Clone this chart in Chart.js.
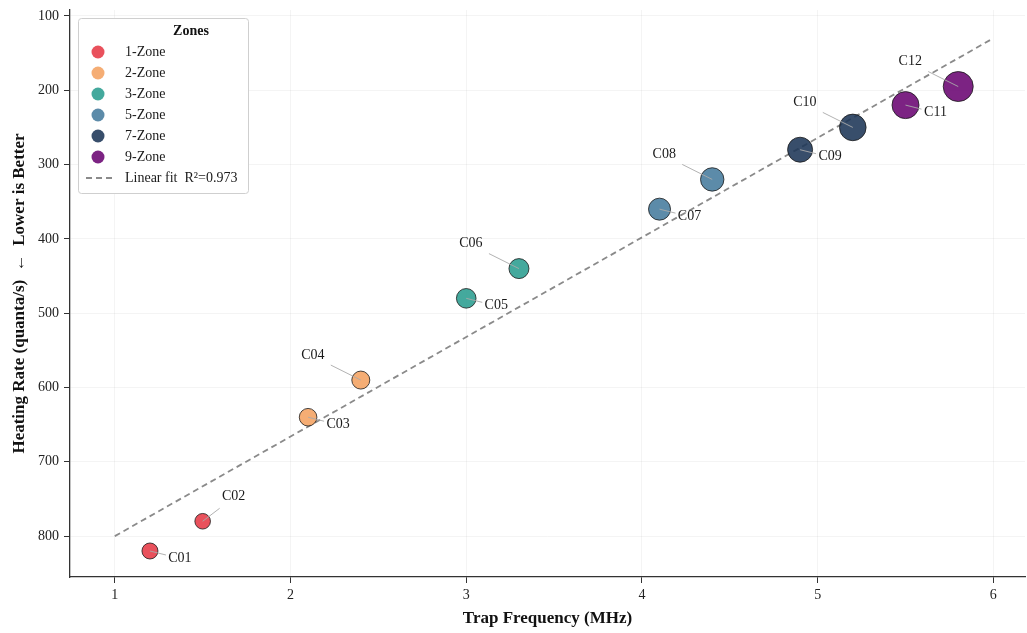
<!DOCTYPE html>
<html>
<head>
<meta charset="utf-8">
<script src="https://cdn.jsdelivr.net/npm/chart.js@4.4.1/dist/chart.umd.min.js"></script>
<style>
  html, body { margin: 0; padding: 0; background: #fff; overflow: hidden; }
  #wrap { width: 1027px; height: 633px; position: relative; }
</style>
</head>
<body>
<div id="wrap"><canvas id="chart"></canvas></div>
<script>
// Chart data
const configNames = ['C01', 'C02', 'C03', 'C04', 'C05', 'C06', 'C07', 'C08', 'C09', 'C10', 'C11', 'C12'];
const trapFreq = [1.2, 1.5, 2.1, 2.4, 3.0, 3.3, 4.1, 4.4, 4.9, 5.2, 5.5, 5.8];
const heatingRate = [820, 780, 640, 590, 480, 440, 360, 320, 280, 250, 220, 195];
const zoneCount = [1, 1, 2, 2, 3, 3, 5, 5, 7, 7, 9, 9];
const zoneGroups = [1, 2, 3, 5, 7, 9];
const fitX = [1, 6];
const fitY = [800, 130];
const fitR2 = '0.973';
const xTicks = [1, 2, 3, 4, 5, 6];
const yTicks = [100, 200, 300, 400, 500, 600, 700, 800];

// Styles
const zoneColors = {
    1: 'rgba(230, 57, 70, 0.88)',
    2: 'rgba(244, 162, 97, 0.88)',
    3: 'rgba(42, 157, 143, 0.88)',
    5: 'rgba(69, 123, 157, 0.88)',
    7: 'rgba(29, 53, 87, 0.88)',
    9: 'rgba(106, 5, 114, 0.88)'
};
const markerRadius = [8, 7.8, 8.8, 9, 9.8, 10, 11, 11.7, 12.5, 13.3, 13.5, 15];
const FONT = "'Liberation Serif', 'Times New Roman', serif";

const datasets = zoneGroups.map(z => ({
    type: 'scatter',
    label: z + '-Zone',
    data: trapFreq.map((x, i) => ({ x: x, y: heatingRate[i], i: i })).filter(p => zoneCount[p.i] === z),
    backgroundColor: zoneColors[z],
    borderColor: '#1a1a1a',
    borderWidth: 0.8,
    pointRadius: ctx => markerRadius[ctx.raw.i],
    pointHoverRadius: ctx => markerRadius[ctx.raw.i],
    order: 1
}));

datasets.push({
    type: 'line',
    label: 'Linear fit',
    data: fitX.map((x, i) => ({ x: x, y: fitY[i] })),
    borderColor: '#8a8a8a',
    borderWidth: 1.8,
    borderDash: [6, 4],
    pointRadius: 0,
    fill: false,
    order: 2
});

// Point labels with leader lines
const pointLabels = {
    id: 'pointLabels',
    afterDatasetsDraw(chart) {
        const ctx = chart.ctx;
        ctx.save();
        ctx.font = '14px ' + FONT;
        ctx.textAlign = 'center';
        ctx.textBaseline = 'middle';
        chart.data.datasets.forEach((ds, di) => {
            if (ds.type !== 'scatter') return;
            chart.getDatasetMeta(di).data.forEach((el, k) => {
                const i = ds.data[k].i;
                let tx, ty, lx, ly;
                if (i % 2 === 0) {
                    tx = el.x + 30; ty = el.y + 7;
                    lx = el.x + 16; ly = el.y + 4;
                } else if (i === 1) {
                    tx = el.x + 31; ty = el.y - 25;
                    lx = el.x + 17; ly = el.y - 13;
                } else {
                    tx = el.x - 48; ty = el.y - 25;
                    lx = el.x - 30; ly = el.y - 15;
                }
                ctx.strokeStyle = 'rgba(170, 170, 170, 0.9)';
                ctx.lineWidth = 1;
                ctx.beginPath();
                ctx.moveTo(el.x, el.y);
                ctx.lineTo(lx, ly);
                ctx.stroke();
                ctx.fillStyle = '#1a1a1a';
                ctx.fillText(configNames[i], tx, ty);
            });
        });
        ctx.restore();
    }
};

// Legend box drawn inside the plot
const zoneLegend = {
    id: 'zoneLegend',
    afterDraw(chart) {
        const ctx = chart.ctx;
        const x0 = 78, y0 = 18, w = 170, h = 175;
        ctx.save();
        ctx.fillStyle = 'rgba(255,255,255,0.92)';
        ctx.strokeStyle = '#cfcfcf';
        ctx.lineWidth = 1;
        ctx.beginPath();
        ctx.roundRect(x0 + 0.5, y0 + 0.5, w, h, 3);
        ctx.fill();
        ctx.stroke();

        ctx.fillStyle = '#111';
        ctx.font = 'bold 14px ' + FONT;
        ctx.textAlign = 'center';
        ctx.textBaseline = 'middle';
        ctx.fillText('Zones', 191, 31);

        ctx.font = '14px ' + FONT;
        ctx.textAlign = 'left';
        zoneGroups.forEach((z, k) => {
            const cy = 52 + k * 21;
            ctx.fillStyle = zoneColors[z];
            ctx.beginPath();
            ctx.arc(98, cy, 6.5, 0, Math.PI * 2);
            ctx.fill();
            ctx.fillStyle = '#1a1a1a';
            ctx.fillText(z + '-Zone', 125, cy);
        });

        const ly = 178;
        ctx.strokeStyle = '#8a8a8a';
        ctx.lineWidth = 1.8;
        ctx.setLineDash([6, 4]);
        ctx.beginPath();
        ctx.moveTo(86, ly);
        ctx.lineTo(114, ly);
        ctx.stroke();
        ctx.setLineDash([]);
        ctx.fillStyle = '#1a1a1a';
        ctx.fillText('Linear fit  R\u00b2=' + fitR2, 125, ly);
        ctx.restore();
    }
};

const ctx = document.getElementById('chart').getContext('2d');
new Chart(ctx, {
    data: { datasets: datasets },
    options: {
        responsive: true,
        maintainAspectRatio: false,
        animation: false,
        events: [],
        layout: { autoPadding: false, padding: { top: 10, right: 2, left: 0, bottom: 0 } },
        plugins: {
            legend: { display: false },
            tooltip: { enabled: false }
        },
        scales: {
            x: {
                type: 'linear',
                min: 0.745,
                max: 6.18,
                afterFit: s => { s.height = 56; s.paddingLeft = 0; s.paddingRight = 0; },
                afterBuildTicks: s => { s.ticks = xTicks.map(v => ({ value: v })); },
                ticks: { font: { family: FONT, size: 14 }, color: '#222', padding: 4 },
                grid: { color: 'rgba(0,0,0,0.045)', tickColor: '#333', tickLength: 6 },
                border: { display: true, color: '#333', width: 1.3 },
                title: {
                    display: true,
                    text: 'Trap Frequency (MHz)',
                    font: { family: FONT, size: 17, weight: 'bold' },
                    color: '#111',
                    padding: { top: 4, bottom: 4 }
                }
            },
            y: {
                type: 'linear',
                reverse: true,
                min: 92,
                max: 855,
                afterFit: s => { s.width = 70; s.paddingTop = 0; s.paddingBottom = 0; },
                afterBuildTicks: s => { s.ticks = yTicks.map(v => ({ value: v })); },
                ticks: { font: { family: FONT, size: 14 }, color: '#222', padding: 5 },
                grid: { color: 'rgba(0,0,0,0.045)', tickColor: '#333', tickLength: 6 },
                border: { display: true, color: '#333', width: 1.3 },
                title: {
                    display: true,
                    text: 'Heating Rate (quanta/s)  \u2190  Lower is Better',
                    font: { family: FONT, size: 17, weight: 'bold' },
                    color: '#111',
                    padding: { top: 9, bottom: 4 }
                }
            }
        }
    },
    plugins: [pointLabels, zoneLegend]
});
</script>
</body>
</html>
